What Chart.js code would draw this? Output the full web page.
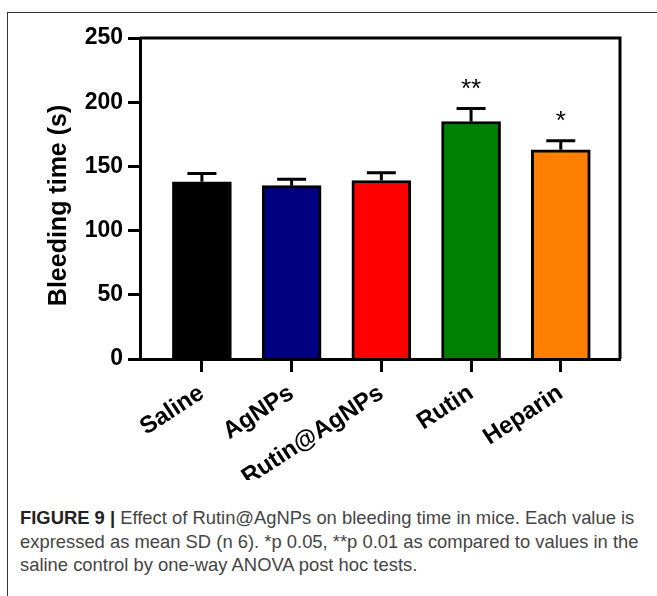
<!DOCTYPE html>
<html><head><meta charset="utf-8">
<script src="https://cdn.jsdelivr.net/npm/chart.js@4.4.1/dist/chart.umd.min.js"></script>
<style>
html,body{margin:0;padding:0;background:#fff;width:657px;height:596px;overflow:hidden;}
#frame{position:absolute;left:7px;top:12px;width:700px;height:700px;border-left:1px solid #333;border-top:1px solid #333;}
#wrap{position:absolute;left:0;top:0;width:657px;height:480px;}
#cap{position:absolute;left:20px;top:506px;font-family:"Liberation Sans",Arial,sans-serif;font-size:18.4px;line-height:23.5px;color:#444;white-space:nowrap;}
#cap b{color:#222;}
</style></head><body>
<div id="frame"></div>
<div id="wrap"><canvas id="c" width="657" height="480"></canvas></div>
<div id="cap"><b>FIGURE 9 |</b> Effect of Rutin@AgNPs on bleeding time in mice. Each value is<br>expressed as mean SD (n 6). *p 0.05, **p 0.01 as compared to values in the<br>saline control by one-way ANOVA post hoc tests.</div>
<script>
const categories = ['Saline','AgNPs','Rutin@AgNPs','Rutin','Heparin'];
const means = [138, 135, 139, 185, 163];
const sds = [6.5, 5, 6, 10, 7];
const significance = ['', '', '', '**', '*'];
const barColors = ['#000000','#000080','#ff0000','#008000','#ff8000'];
const yTicks = [0, 50, 100, 150, 200, 250];

const FONT = '"Liberation Sans", Arial, Helvetica, sans-serif';

const overlay = {
  id: 'overlay',
  afterDatasetsDraw(chart) {
    const {ctx, chartArea: a, scales: {x, y}} = chart;
    ctx.save();
    ctx.strokeStyle = '#000';
    ctx.lineWidth = 3;
    ctx.beginPath();
    ctx.moveTo(a.left, a.top);
    ctx.lineTo(a.right, a.top);
    ctx.lineTo(a.right, a.bottom);
    ctx.stroke();
    means.forEach((m, i) => {
      const cx = x.getPixelForValue(i);
      const yt = y.getPixelForValue(m);
      const ye = y.getPixelForValue(m + sds[i]);
      ctx.beginPath();
      ctx.moveTo(cx, yt); ctx.lineTo(cx, ye);
      ctx.moveTo(cx - 14.5, ye); ctx.lineTo(cx + 14.5, ye);
      ctx.stroke();
      if (significance[i]) {
        ctx.fillStyle = '#000';
        ctx.font = '26px ' + FONT;
        ctx.textAlign = 'center';
        ctx.textBaseline = 'alphabetic';
        ctx.fillText(significance[i], cx, ye - 12);
      }
    });
    ctx.restore();
  }
};

new Chart(document.getElementById('c'), {
  type: 'bar',
  data: {
    datasets: [{
      data: categories.map((c, i) => ({x: i, y: means[i]})),
      backgroundColor: barColors,
      borderColor: '#000',
      borderWidth: 3,
      barThickness: 59
    }]
  },
  options: {
    responsive: false,
    animation: false,
    devicePixelRatio: 1,
    layout: {padding: {left: 0, top: 38, right: 37, bottom: 0}},
    plugins: {legend: {display: false}, tooltip: {enabled: false}},
    scales: {
      x: {
        type: 'linear',
        offset: false,
        min: -0.69, max: 4.66,
        afterBuildTicks: s => { s.ticks = categories.map((_, i) => ({value: i})); },
        afterFit: s => { s.height = 121; },
        ticks: {
          callback: v => categories[v],
          font: {family: FONT, size: 24, weight: 'bold'},
          color: '#000',
          minRotation: 33, maxRotation: 33,
          autoSkip: false,
          padding: 7
        },
        grid: {display: true, offset: false, drawOnChartArea: false, drawTicks: true, tickLength: 13, tickWidth: 3, tickColor: '#000', color: '#000'},
        border: {display: true, color: '#000', width: 3, z: 1}
      },
      y: {
        min: 0, max: 250,
        afterBuildTicks: s => { s.ticks = yTicks.map(v => ({value: v})); },
        afterFit: s => { s.width = 140; },
        ticks: {
          font: {family: FONT, size: 23, weight: 'bold'},
          color: '#000',
          padding: 5
        },
        grid: {display: true, drawOnChartArea: false, drawTicks: true, tickLength: 12, tickWidth: 3, tickColor: '#000', color: '#000'},
        border: {display: true, color: '#000', width: 3, z: 1},
        title: {
          display: true,
          text: 'Bleeding time (s)\u00a0\u00a0',
          font: {family: FONT, size: 25, weight: 'bold'},
          color: '#000',
          padding: {top: 44, bottom: 0}
        }
      }
    }
  },
  plugins: [overlay]
});
</script>
</body></html>
